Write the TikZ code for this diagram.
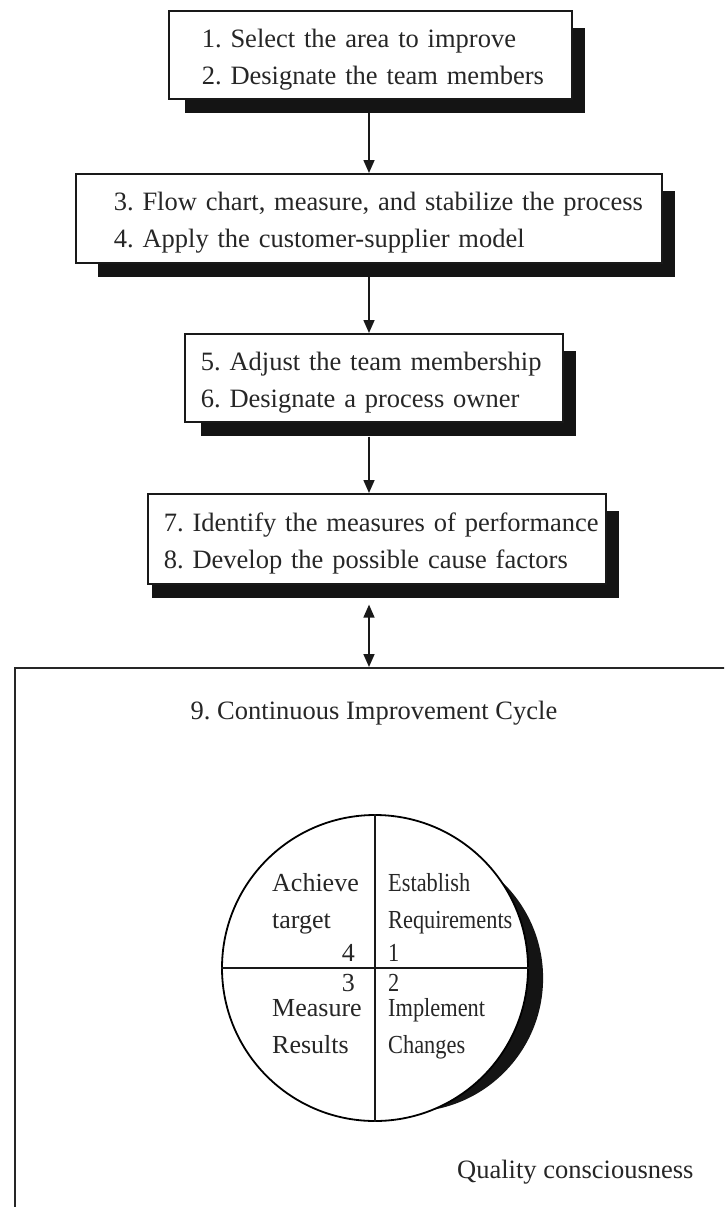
\documentclass[tikz,border=0pt]{standalone}
\usepackage{fontspec}
\setmainfont{Liberation Serif}
\usepackage{graphicx}
\usetikzlibrary{arrows.meta,backgrounds}

% strut that fixes the height of each line inside the step boxes
\newcommand\boxstrut{\rule[-6pt]{0pt}{34pt}}
% horizontally condensed wording for the right half of the wheel
\newcommand\narrowword[1]{\scalebox{0.86}[1]{#1}}
% black drop shadow behind a step box: #1 node name, #2 left inset
\newcommand\dropshadow[2]{%
  \fill[shadowfill] ([xshift=#2,yshift=-13pt]#1.south west)
    rectangle ([xshift=12pt,yshift=-18pt]#1.north east);}

\begin{document}
\frenchspacing
\begin{tikzpicture}[x=1pt,y=-1pt,
  txt/.style={text=black!85, font=\fontsize{26.5}{37}\selectfont\frenchspacing},
  stepbox/.style={txt, draw=black!90, line width=1.6pt, fill=white,
    align=left, inner ysep=0pt, anchor=north west},
  shadowfill/.style={fill=black!92},
  arr/.style={line width=1.6pt, draw=black!90,
    -{Triangle[length=13pt,width=11pt]}},
  darr/.style={line width=1.6pt, draw=black!90,
    {Triangle[length=13pt,width=11pt]}-{Triangle[length=13pt,width=11pt]}},
  quad/.style={text=black!85, font=\fontsize{26}{30}\selectfont, inner sep=0pt},
  frame/.style={draw=black!85, line width=1.8pt, anchor=north west},
  wheelstyle/.style={circle, draw=black, fill=white, line width=1.8pt,
    minimum size=306pt, inner sep=0pt},
  quarter/.style={draw=black!90, line width=1.6pt},
]
\path[use as bounding box] (0,0) rectangle (724,1207);
\coordinate (spine) at (369,0);

% the four step boxes
\node[stepbox, minimum width=403pt, minimum height=88pt,
      text width=337pt, inner xsep=33pt] (b1) at (168,10)
  {\boxstrut\mbox{1. Select the area to improve}\\
   \boxstrut\mbox{2. Designate the team members}};
\node[stepbox, minimum width=586pt, minimum height=89pt,
      text width=510pt, inner xsep=38pt] (b2) at (75,173)
  {\boxstrut\mbox{3. Flow chart, measure, and stabilize the process}\\
   \boxstrut\mbox{4. Apply the customer-supplier model}};
\node[stepbox, minimum width=378pt, minimum height=88pt,
      text width=346pt, inner xsep=16pt] (b3) at (184,333)
  {\boxstrut\mbox{5. Adjust the team membership}\\
   \boxstrut\mbox{6. Designate a process owner}};
\node[stepbox, minimum width=458pt, minimum height=90pt,
      text width=426pt, inner xsep=16pt] (b4) at (147,493)
  {\boxstrut\mbox{7. Identify the measures of performance}\\
   \boxstrut\mbox{8. Develop the possible cause factors}};

% open frame of step 9, running off the page to the right and bottom
\begin{scope}
  \clip (0,0) rectangle (724,1207);
  \node[frame, minimum width=760pt, minimum height=600pt] (cycle) at (14,667) {};
\end{scope}
\node[txt, anchor=base] (title) at (374,719) {9. Continuous Improvement Cycle};

% connectors
\draw[arr] ([yshift=-13pt]b1.south -| spine) -- (b2.north -| spine);
\draw[arr] ([yshift=-13pt]b2.south -| spine) -- (b3.north -| spine);
\draw[arr] ([yshift=-14pt]b3.south -| spine) -- (b4.north -| spine);
\draw[darr] ([yshift=-20pt]b4.south -| spine) -- (cycle.north -| spine);

% improvement wheel with its crescent shadow
\coordinate (hub) at (375,968);
\fill[shadowfill] ([xshift=34.5pt,yshift=-10.2pt]hub) circle[radius=133.6pt];
\node[wheelstyle] (wheel) at (hub) {};
\draw[quarter] (wheel.north) -- (wheel.south);
\draw[quarter] (wheel.west) -- (wheel.east);

\node[quad, anchor=base west] (achieve) at (272,891) {Achieve};
\node[quad, anchor=base west] (target) at (272,928) {target};
\node[quad, anchor=base east] (n4) at (355,961) {4};
\node[quad, anchor=base east] (n3) at (355,991) {3};
\node[quad, anchor=base west] (measure) at (272,1016) {Measure};
\node[quad, anchor=base west] (results) at (272,1053) {Results};

\node[quad, anchor=base west] (establish) at (388,891) {\narrowword{Establish}};
\node[quad, anchor=base west] (requirements) at (388,928) {\narrowword{Requirements}};
\node[quad, anchor=base west] (n1) at (388,961) {\narrowword{1}};
\node[quad, anchor=base west] (n2) at (388,991) {\narrowword{2}};
\node[quad, anchor=base west] (implement) at (388,1016) {\narrowword{Implement}};
\node[quad, anchor=base west] (changes) at (388,1053) {\narrowword{Changes}};

\node[txt, anchor=base east] (quality) at (697,1178) {Quality consciousness};

% page background and drop shadows behind the boxes
\begin{scope}[on background layer]
  \fill[white] (0,0) rectangle (724,1207);
  \dropshadow{b1}{17pt}
  \dropshadow{b2}{23pt}
  \dropshadow{b3}{17pt}
  \dropshadow{b4}{5pt}
\end{scope}
\end{tikzpicture}
\end{document}
